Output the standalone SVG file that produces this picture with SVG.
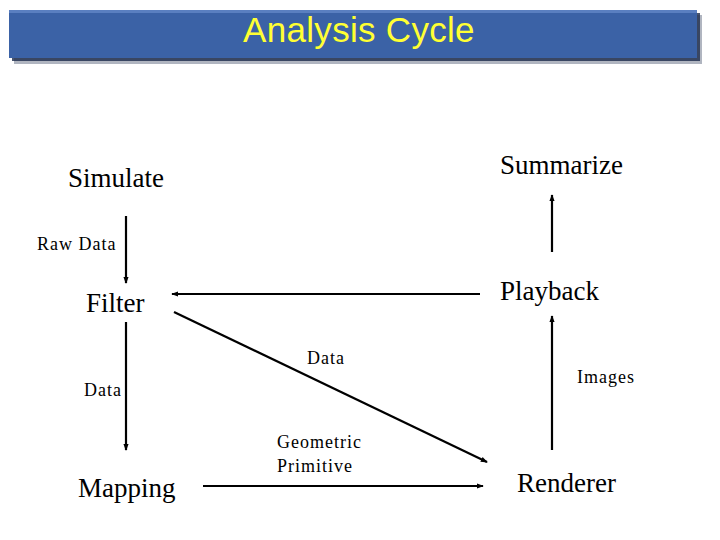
<svg xmlns="http://www.w3.org/2000/svg" width="720" height="540" viewBox="0 0 720 540">
<defs>
<marker id="ah" viewBox="0 0 8 6" refX="7" refY="3" markerWidth="7" markerHeight="6" markerUnits="userSpaceOnUse" orient="auto">
<path d="M0,0 L8,3 L0,6 Z" fill="#000"/>
</marker>
</defs>
<rect width="720" height="540" fill="#fff"/>
<g id="title">
<rect x="14" y="15" width="688" height="49" fill="#1c2a4a" opacity="0.35"/>
<rect x="12" y="13" width="688" height="48" fill="#1c2a4a" opacity="0.8"/>
<rect x="9" y="10" width="688" height="48" fill="#3b62a6"/>
<rect x="9" y="10" width="688" height="3" fill="#5a7fc0"/>
<text x="359" y="42" text-anchor="middle" font-family="Liberation Sans" font-size="35" letter-spacing="0.3" fill="#ffff33">Analysis Cycle</text>
</g>
<g id="connectors" stroke="#000" stroke-width="2.2" marker-end="url(#ah)">
<line x1="126" y1="216" x2="126" y2="283"/>
<line x1="126" y1="322" x2="126" y2="450"/>
<line x1="480" y1="294" x2="172" y2="294"/>
<line x1="174" y1="312" x2="487" y2="462"/>
<line x1="203" y1="486" x2="483" y2="486"/>
<line x1="552" y1="450" x2="552" y2="316"/>
<line x1="552" y1="252" x2="552" y2="195"/>
</g>
<g id="node-simulate"><text font-family="Liberation Serif" font-size="27" x="68" y="187">Simulate</text></g>
<g id="node-summarize"><text font-family="Liberation Serif" font-size="27" x="500" y="174">Summarize</text></g>
<g id="node-filter"><text font-family="Liberation Serif" font-size="27" x="86" y="312">Filter</text></g>
<g id="node-playback"><text font-family="Liberation Serif" font-size="27" x="500" y="300">Playback</text></g>
<g id="node-mapping"><text font-family="Liberation Serif" font-size="27" x="78" y="497">Mapping</text></g>
<g id="node-renderer"><text font-family="Liberation Serif" font-size="27" x="517" y="492">Renderer</text></g>
<g id="edge-labels">
<text font-family="Liberation Serif" font-size="18" letter-spacing="1" x="37" y="250">Raw Data</text>
<text font-family="Liberation Serif" font-size="18" letter-spacing="1" x="84" y="396">Data</text>
<text font-family="Liberation Serif" font-size="18" letter-spacing="1" x="307" y="364">Data</text>
<text font-family="Liberation Serif" font-size="18" letter-spacing="1" x="577" y="383">Images</text>
<text font-family="Liberation Serif" font-size="18" letter-spacing="1" x="277" y="448">Geometric</text>
<text font-family="Liberation Serif" font-size="18" letter-spacing="1" x="277" y="472">Primitive</text>
</g>
</svg>
